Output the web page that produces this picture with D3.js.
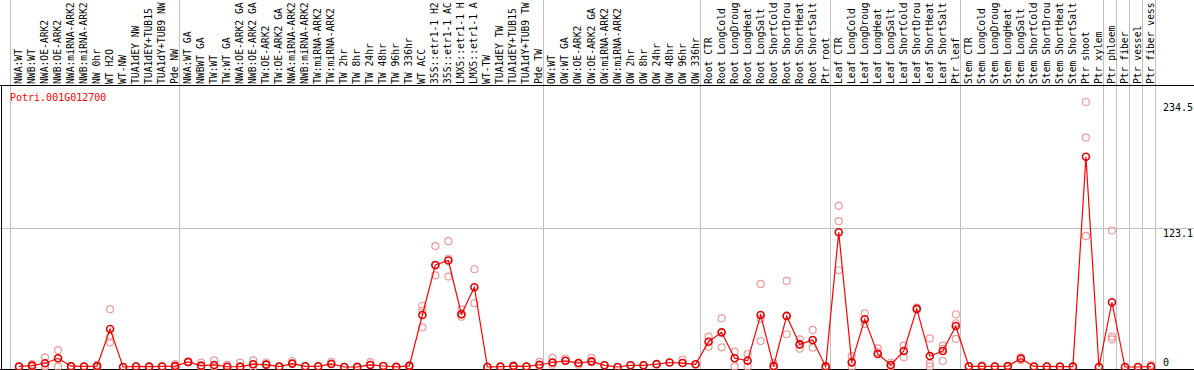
<!DOCTYPE html>
<html>
<head>
<meta charset="utf-8">
<script src="https://cdn.jsdelivr.net/npm/d3@7"></script>
<style>
  body { margin: 0; background: #fff; }
  text { font-family: "DejaVu Sans Mono", monospace; }
</style>
</head>
<body>
<div id="chart"></div>
<script>
// sample labels, as far as the header shows them (14 characters)
var categories = [
    "NWA:WT", "NWB:WT", "NWA:OE-ARK2", "NWB:OE-ARK2", "NWA:miRNA-ARK2", "NWB:miRNA-ARK2", "NW 0hr", "WT H2O", "WT-NW",
    "TUA1dEY NW", "TUA1dEY+TUB15", "TUA1dY+TUB9 NW", "Pde NW",
    "NWA:WT GA", "NWBWT GA", "TW:WT", "TW:WT GA", "NWA:OE-ARK2 GA", "NWB:OE-ARK2 GA", "TW:OE-ARK2", "TW:OE-ARK2 GA",
    "NWA:miRNA-ARK2", "NWB:miRNA-ARK2", "TW:miRNA-ARK2", "TW:miRNA-ARK2", "TW 2hr", "TW 8hr", "TW 24hr", "TW 48hr",
    "TW 96hr", "TW 336hr", "WT ACC", "35S::etr1-1 H2", "35S::etr1-1 AC", "LMX5::etr1-1 H", "LMX5::etr1-1 A",
    "WT-TW", "TUA1dEY TW", "TUA1dEY+TUB15", "TUA1dY+TUB9 TW", "Pde TW",
    "OW:WT", "OW:WT GA", "OW:OE-ARK2", "OW:OE-ARK2 GA", "OW:miRNA-ARK2", "OW:miRNA-ARK2", "OW 2hr", "OW 8hr",
    "OW 24hr", "OW 48hr", "OW 96hr", "OW 336hr",
    "Root CTR", "Root LongCold", "Root LongDroug", "Root LongHeat", "Root LongSalt", "Root ShortCold",
    "Root ShortDrou", "Root ShortHeat", "Root ShortSalt", "Ptr root",
    "Leaf CTR", "Leaf LongCold", "Leaf LongDroug", "Leaf LongHeat", "Leaf LongSalt", "Leaf ShortCold",
    "Leaf ShortDrou", "Leaf ShortHeat", "Leaf ShortSalt", "Ptr leaf",
    "Stem CTR", "Stem LongCold", "Stem LongDroug", "Stem LongHeat", "Stem LongSalt", "Stem ShortCold",
    "Stem ShortDrou", "Stem ShortHeat", "Stem ShortSalt", "Ptr shoot", "Ptr xylem",
    "Ptr phloem", "Ptr fiber", "Ptr vessel", "Ptr fiber vess"
];

// column index where each group starts (last = end)
var groupBreaks = [0, 13, 41, 53, 63, 73, 84, 85, 86, 87, 88];

// mean expression per sample
var means = [
    0.5, 1.2, 3.3, 7.7, 0.7, 0.5, 0.8, 33.6, 0, 0.5, 0.3, 0.5, 0.8,
    4.5, 1.2, 1.8, 0.2, 0.3, 2.4, 2.1, 0.3, 3.0, 0.6, 0.6, 2.7, 0, 0.1, 1.8, 0.9,
    0.1, 1.0, 46, 90.3, 94.2, 46.7, 70.6, 0, 0.3, 0.8, 0.5, 2,
    4, 5.5, 3.5, 5, 1.5, 0, 1.5, 1.5, 2.5, 4, 3.5, 2.4,
    22.4, 30.7, 7.7, 5.6, 46, 0.9, 45.2, 20, 23.9, 0.3,
    119.3, 4.1, 42.2, 11.5, 1.8, 14.2, 51.4, 9.7, 14.2, 36.3,
    0.6, 0.6, 0.5, 0.8, 7.5, 0.5, 0.5, 0.3, 0.3, 186, 0,
    57.3, 0, 0, 0.3
];

// replicate values per sample
var replicates = [
    [0.5, 0.3], [2.5, 0.5], [8.6, 0.5, 1], [15, 0.3, 7.5], [0.7, 0.5], [0.5], [2, 0.3], [51, 26.8, 21.8],
    [0], [0.5], [0.3], [0.5], [2.5, 0.2],
    [4.5, 4], [3.8, 0.5], [5.8, 0.5], [1.8, 0], [3.8, 0], [5.9, 2.4, 0], [4, 2.1], [0.3], [5.3, 3], [0.6], [0.6],
    [4.6, 2.7], [0], [0.1], [4.4, 1.8], [0.9], [0.1], [1.5, 0.6],
    [54, 50, 35], [107, 81, 90], [111.3, 96, 80], [51, 44.5, 46.7], [86.5, 56.4],
    [0], [0.3], [1.5, 0.5], [0.5], [4.5, 1],
    [8, 4, 2], [7.5, 5.5], [3.5, 2], [8, 4], [1.5], [0], [1.5], [1.5], [2.5], [4], [6.5, 3.5], [2.4],
    [26.9, 18], [43, 17.4, 30], [13.6, 0.5], [11.5, 0.5], [73.5, 42.8, 23], [3.5, 0], [76.2, 29, 45],
    [24.5, 16.2, 20], [32.8, 17.1], [1, 0],
    [142.6, 129, 85.6], [9.7, 0.5], [47.5, 38], [16.5, 13], [4, 0.5], [18.9, 8.6], [52.5, 51], [25.4, 3.2, 0.5],
    [18.9, 16, 5.3], [46.7, 38.7, 24.8],
    [0.6], [1.5], [0.5], [0.8], [8.5, 6], [0.5], [0.5], [0.3], [0.3], [234.5, 203, 116], [0],
    [120.8, 26.8, 24.5], [0], [0], [2, 0.3]
];

var yTicks = [0, 123.1, 234.5];
var geneName = "Potri.001G012700";

var W = 1194, H = 370;
var svg = d3.select("#chart").append("svg")
    .attr("width", W)
    .attr("height", H);

var xEdge = d3.scaleLinear().domain([0, categories.length]).range([10, 1155]);
var y = d3.scaleLinear().domain([0, 234.5]).range([367, 102]);

function px(i) { return xEdge(i) + 9; }

// group separators
svg.selectAll(".sep")
    .data(groupBreaks)
    .enter().append("line")
    .attr("class", "sep")
    .attr("x1", function(d) { return Math.round(xEdge(d)) + 0.5; })
    .attr("x2", function(d) { return Math.round(xEdge(d)) + 0.5; })
    .attr("y1", 0)
    .attr("y2", H)
    .style("stroke", "#c0c0c0");

// horizontal grid line at the middle tick
svg.append("line")
    .attr("x1", 0).attr("x2", W)
    .attr("y1", Math.round(y(123.1)) + 0.5)
    .attr("y2", Math.round(y(123.1)) + 0.5)
    .style("stroke", "#c0c0c0");

// frame
svg.append("line").attr("x1", 0).attr("x2", W).attr("y1", 85.5).attr("y2", 85.5).style("stroke", "#000");
svg.append("line").attr("x1", 0).attr("x2", W).attr("y1", 369.5).attr("y2", 369.5).style("stroke", "#000");
svg.append("line").attr("x1", 1.5).attr("x2", 1.5).attr("y1", 85.5).attr("y2", 370).style("stroke", "#000");

// sample labels
svg.selectAll(".lbl")
    .data(categories)
    .enter().append("text")
    .attr("class", "lbl")
    .attr("transform", function(d, i) {
        return "translate(" + (xEdge(i) + 12) + ",84)rotate(-90)";
    })
    .style("font-size", "9.7px")
    .style("fill", "#000")
    .text(function(d) { return d; });

// y labels
svg.selectAll(".ytick")
    .data(yTicks)
    .enter().append("text")
    .attr("class", "ytick")
    .attr("x", 1163)
    .attr("y", function(d) { return d === 0 ? y(d) - 1 : y(d) + 9; })
    .style("font-size", "10px")
    .text(function(d) { return d === 0 ? "0" : d3.format(".1f")(d); });

// gene name
svg.append("text")
    .attr("x", 10)
    .attr("y", 101)
    .style("font-size", "10px")
    .style("fill", "#ff0000")
    .text(geneName);

// replicate points
var repPts = [];
replicates.forEach(function(r, i) {
    r.forEach(function(v) { repPts.push({ i: i, v: v }); });
});
svg.selectAll(".rep")
    .data(repPts)
    .enter().append("circle")
    .attr("class", "rep")
    .attr("cx", function(d) { return px(d.i); })
    .attr("cy", function(d) { return y(d.v); })
    .attr("r", 3.5)
    .style("fill", "none")
    .style("stroke", "#f09a9a")
    .style("stroke-width", 1.2);

// mean line
svg.append("path")
    .datum(means)
    .attr("d", d3.line()
        .x(function(d, i) { return px(i); })
        .y(function(d) { return y(d); }))
    .style("fill", "none")
    .style("stroke", "#ff0000")
    .style("stroke-width", 1.2);

// mean points
svg.selectAll(".mean")
    .data(means)
    .enter().append("circle")
    .attr("class", "mean")
    .attr("cx", function(d, i) { return px(i); })
    .attr("cy", function(d) { return y(d); })
    .attr("r", 3.5)
    .style("fill", "none")
    .style("stroke", "#e00000")
    .style("stroke-width", 1.6);
</script>
</body>
</html>
